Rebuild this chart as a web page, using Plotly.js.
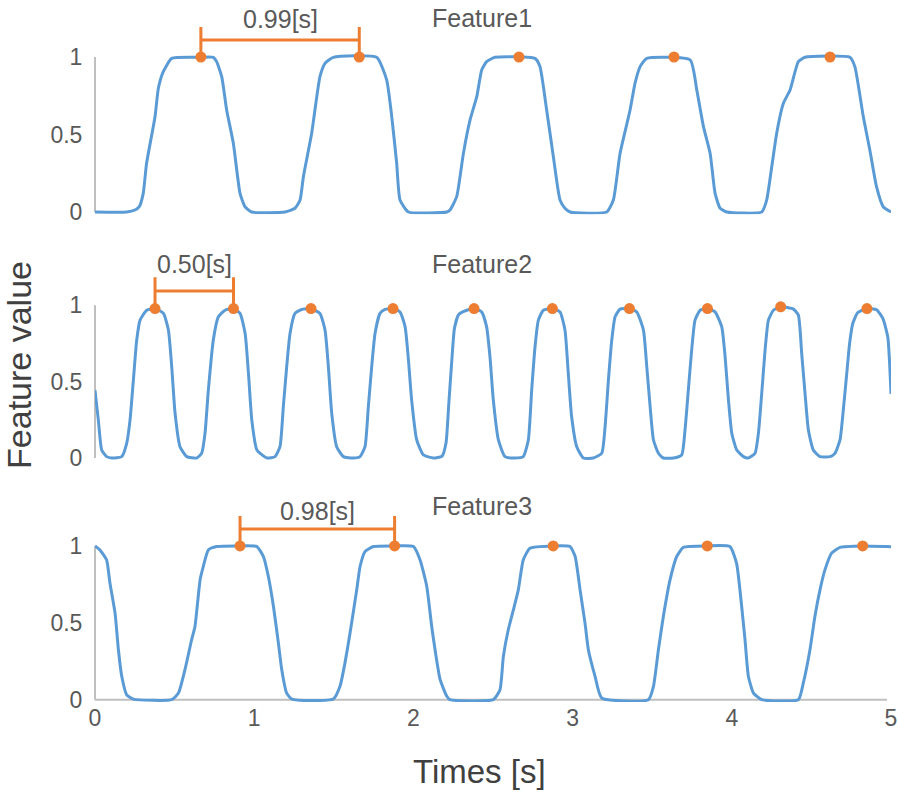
<!DOCTYPE html>
<html>
<head>
<meta charset="utf-8">
<script src="https://cdn.plot.ly/plotly-3.0.1.min.js"></script>
<style>html,body{margin:0;padding:0;background:#fff;}#chart{width:898px;height:795px;}</style>
</head>
<body>
<div id="chart"></div>
<script>
// ---------- data ----------
const xTicks = [0, 1, 2, 3, 4, 5];
const yTicks = [0, 0.5, 1];
const yTickText = ['0', '0.5', '1'];
const panelNames = ['Feature1', 'Feature2', 'Feature3'];
const intervalLabels = ['0.99[s]', '0.50[s]', '0.98[s]'];

const f1x = [0, 0.199, 0.251, 0.278, 0.303, 0.324, 0.377, 0.398, 0.429, 0.482, 0.660, 0.744, 0.764, 0.796, 0.827, 0.869, 0.911, 0.942, 0.984,
  1.194, 1.256, 1.288, 1.309, 1.361, 1.413, 1.445, 1.497, 1.769, 1.832, 1.864, 1.895, 1.916, 1.969,
  2.210, 2.230, 2.272, 2.314, 2.356, 2.398, 2.429, 2.460, 2.513, 2.764, 2.795, 2.837, 2.879, 2.921, 2.952, 2.984,
  3.214, 3.256, 3.298, 3.361, 3.392, 3.424, 3.466, 3.738, 3.780, 3.822, 3.864, 3.895, 3.927, 3.969,
  4.188, 4.219, 4.251, 4.282, 4.324, 4.366, 4.418, 4.460, 4.742, 4.773, 4.826, 4.867, 4.909, 4.951, 5.0];
const f1y = [0, 0, 0.013, 0.034, 0.120, 0.314, 0.615, 0.798, 0.905, 0.991, 0.998, 0.998, 0.970, 0.873, 0.658, 0.443, 0.120, 0.034, 0,
  0, 0.024, 0.077, 0.228, 0.508, 0.873, 0.959, 0.998, 0.998, 0.852, 0.615, 0.314, 0.077, 0,
  0, 0.013, 0.099, 0.378, 0.594, 0.744, 0.916, 0.970, 0.998, 0.991, 0.938, 0.658, 0.357, 0.077, 0.024, 0,
  0, 0.077, 0.378, 0.658, 0.830, 0.938, 0.991, 0.981, 0.787, 0.551, 0.378, 0.120, 0.024, 0,
  0, 0.077, 0.292, 0.508, 0.701, 0.787, 0.970, 0.998, 0.998, 0.938, 0.615, 0.400, 0.163, 0.034, 0];
const f1PeakX = [0.665, 1.660, 2.663, 3.637, 4.617];
const f1PeakY = [1, 1, 1, 1, 1];

const f2x = [0, 0.021, 0.042, 0.073, 0.105, 0.168, 0.199, 0.220, 0.241, 0.262, 0.283, 0.325, 0.377, 0.430, 0.461, 0.482, 0.503, 0.534, 0.576,
  0.639, 0.670, 0.691, 0.712, 0.743, 0.775, 0.817, 0.865, 0.911, 0.943, 0.964, 0.985, 1.017, 1.080,
  1.131, 1.162, 1.183, 1.204, 1.225, 1.256, 1.298, 1.355, 1.413, 1.445, 1.466, 1.487, 1.518, 1.560, 1.623,
  1.665, 1.696, 1.717, 1.738, 1.759, 1.790, 1.822, 1.870, 1.916, 1.948, 1.969, 1.989, 2.021, 2.063, 2.125,
  2.180, 2.205, 2.222, 2.240, 2.258, 2.285, 2.335, 2.381, 2.429, 2.460, 2.481, 2.502, 2.534, 2.575, 2.638,
  2.690, 2.722, 2.743, 2.764, 2.785, 2.816, 2.873, 2.921, 2.952, 2.973, 2.994, 3.026, 3.068, 3.131,
  3.183, 3.204, 3.225, 3.246, 3.267, 3.298, 3.357, 3.403, 3.445, 3.466, 3.487, 3.508, 3.539, 3.570, 3.633,
  3.685, 3.706, 3.727, 3.748, 3.769, 3.801, 3.847, 3.895, 3.937, 3.958, 3.979, 4.000, 4.031, 4.073, 4.104,
  4.146, 4.167, 4.188, 4.209, 4.230, 4.261, 4.307, 4.387, 4.418, 4.439, 4.460, 4.481, 4.512, 4.554, 4.617,
  4.648, 4.680, 4.700, 4.720, 4.740, 4.760, 4.790, 4.847, 4.910, 4.950, 4.980, 5.0];
const f2y = [0.444, 0.248, 0.052, 0.009, 0, 0.009, 0.096, 0.248, 0.510, 0.771, 0.902, 0.967, 0.978, 0.946, 0.837, 0.597, 0.292, 0.074, 0.009,
  0, 0.031, 0.161, 0.444, 0.771, 0.924, 0.967, 0.978, 0.946, 0.815, 0.553, 0.248, 0.052, 0,
  0.009, 0.074, 0.336, 0.597, 0.815, 0.946, 0.972, 0.978, 0.946, 0.837, 0.597, 0.292, 0.074, 0.009, 0,
  0.009, 0.074, 0.336, 0.597, 0.815, 0.946, 0.972, 0.978, 0.956, 0.858, 0.640, 0.379, 0.118, 0.020, 0,
  0.012, 0.100, 0.350, 0.620, 0.850, 0.940, 0.967, 0.978, 0.956, 0.858, 0.662, 0.379, 0.118, 0.009, 0,
  0.009, 0.118, 0.444, 0.728, 0.902, 0.967, 0.978, 0.956, 0.837, 0.553, 0.270, 0.074, 0, 0,
  0.031, 0.205, 0.510, 0.771, 0.924, 0.974, 0.978, 0.956, 0.837, 0.597, 0.336, 0.118, 0.031, 0, 0,
  0.020, 0.183, 0.444, 0.706, 0.902, 0.967, 0.978, 0.956, 0.858, 0.662, 0.379, 0.161, 0.052, 0.009, 0,
  0.031, 0.161, 0.423, 0.706, 0.902, 0.967, 0.989, 0.974, 0.935, 0.684, 0.423, 0.183, 0.052, 0.009, 0.009,
  0.030, 0.120, 0.310, 0.530, 0.750, 0.880, 0.950, 0.978, 0.970, 0.910, 0.790, 0.420];
const f2PeakX = [0.377, 0.870, 1.357, 1.872, 2.381, 2.873, 3.357, 3.847, 4.307, 4.849];
const f2PeakY = [0.978, 0.978, 0.978, 0.978, 0.978, 0.978, 0.978, 0.978, 0.989, 0.978];

const f3x = [0, 0.031, 0.073, 0.094, 0.126, 0.147, 0.168, 0.199, 0.241, 0.482, 0.524, 0.565, 0.607, 0.628, 0.660, 0.680, 0.712, 0.764, 0.911,
  1.016, 1.058, 1.089, 1.121, 1.152, 1.173, 1.204, 1.236, 1.497, 1.539, 1.570, 1.602, 1.644, 1.665, 1.696, 1.749, 1.882,
  2.000, 2.042, 2.084, 2.115, 2.136, 2.168, 2.210, 2.230, 2.502, 2.544, 2.565, 2.596, 2.628, 2.659, 2.690, 2.732, 2.878,
  2.984, 3.016, 3.047, 3.078, 3.099, 3.141, 3.183, 3.476, 3.508, 3.539, 3.570, 3.612, 3.654, 3.696, 3.846,
  3.988, 4.030, 4.062, 4.083, 4.104, 4.136, 4.188, 4.418, 4.449, 4.491, 4.522, 4.554, 4.585, 4.627, 4.680, 4.822, 4.973, 5.0];
const f3y = [1.0, 0.974, 0.909, 0.758, 0.563, 0.325, 0.152, 0.032, 0.004, 0, 0.043, 0.195, 0.390, 0.476, 0.779, 0.866, 0.974, 0.996, 1.0,
  0.996, 0.931, 0.801, 0.606, 0.368, 0.195, 0.043, 0.004, 0.004, 0.087, 0.238, 0.433, 0.714, 0.866, 0.963, 0.996, 1.0,
  0.996, 0.909, 0.736, 0.476, 0.325, 0.130, 0.022, 0, 0, 0.065, 0.281, 0.455, 0.584, 0.714, 0.909, 0.985, 1.0,
  0.996, 0.931, 0.714, 0.498, 0.325, 0.152, 0.011, 0, 0.087, 0.325, 0.541, 0.779, 0.931, 0.991, 1.0,
  0.996, 0.887, 0.606, 0.390, 0.152, 0.043, 0, 0, 0.108, 0.325, 0.541, 0.714, 0.844, 0.953, 0.991, 1.0, 0.996, 0.995];
const f3PeakX = [0.911, 1.882, 2.878, 3.846, 4.822];
const f3PeakY = [1, 1, 1, 1, 1];

// ---------- styling ----------
const BLUE = '#5b9bd5', ORANGE = '#ed7d31', AXIS = '#bfbfbf', TXT = '#595959', TITLE = '#404040';
const FONT = 'Liberation Sans, Arial, Helvetica, sans-serif';
const yRange = [-0.015, 1.25];
const domains = [[0.6947, 0.9740], [0.3443, 0.6197], [0, 0.2771]];
const bracketTop = [1.194, 1.183, 1.195];
const bracketBar = [1.110, 1.092, 1.110];
const labelY = [0.9729, 0.6239, 0.2721];
const nameY = [0.9744, 0.6239, 0.2792];

const series = [[f1x, f1y, f1PeakX, f1PeakY], [f2x, f2y, f2PeakX, f2PeakY], [f3x, f3y, f3PeakX, f3PeakY]];
const yaxNames = ['y', 'y2', 'y3'];
const traces = [];
const shapes = [];
const annotations = [];

series.forEach((s, i) => {
  const [sx, sy, px, py] = s;
  const ya = yaxNames[i];
  traces.push({x: sx, y: sy, xaxis: 'x', yaxis: ya, type: 'scatter', mode: 'lines',
    line: {color: BLUE, width: 3, shape: 'spline', smoothing: 0.5}, hoverinfo: 'x+y'});
  // interval bracket between the first two peaks
  const a = px[0], b = px[1];
  traces.push({x: [a, a, null, a, b, null, b, b], y: [py[0], bracketTop[i], null, bracketBar[i], bracketBar[i], null, py[1], bracketTop[i]],
    xaxis: 'x', yaxis: ya, type: 'scatter', mode: 'lines', line: {color: ORANGE, width: 3}, hoverinfo: 'skip'});
  traces.push({x: px, y: py, xaxis: 'x', yaxis: ya, type: 'scatter', mode: 'markers',
    marker: {color: ORANGE, size: 11}, cliponaxis: false});
  // left axis line spanning 0..1
  shapes.push({type: 'line', xref: 'paper', yref: ya, x0: 0, x1: 0, y0: 0, y1: 1, line: {color: AXIS, width: 2}, layer: 'below'});
  annotations.push({xref: 'paper', yref: 'paper', x: 0.4862, y: nameY[i], xanchor: 'center', yanchor: 'middle',
    text: panelNames[i], showarrow: false, font: {family: FONT, size: 25, color: TXT}});
  annotations.push({xref: 'x', yref: 'paper', x: (a + b) / 2, y: labelY[i], xanchor: 'center', yanchor: 'middle',
    text: intervalLabels[i], showarrow: false, font: {family: FONT, size: 25, color: TXT}});
});
// bottom axis line
shapes.push({type: 'line', xref: 'paper', yref: 'y3', x0: 0, x1: 0.995, y0: 0, y1: 0, line: {color: AXIS, width: 2}, layer: 'below'});

annotations.push({xref: 'paper', yref: 'paper', x: -0.0955, y: 0.4801, xanchor: 'center', yanchor: 'middle', textangle: -90,
  text: 'Feature value', showarrow: false, font: {family: FONT, size: 34, color: TITLE}});
annotations.push({xref: 'paper', yref: 'paper', x: 0.483, y: -0.0997, xanchor: 'center', yanchor: 'middle',
  text: 'Times [s]', showarrow: false, font: {family: FONT, size: 33, color: TITLE}});

function yax(i) {
  return {domain: domains[i], range: yRange, anchor: 'x', tickmode: 'array', tickvals: yTicks, ticktext: yTickText,
    showline: false, showgrid: false, zeroline: false, ticks: 'outside', ticklen: 7, tickcolor: 'rgba(0,0,0,0)',
    tickfont: {family: FONT, size: 23, color: TXT}, fixedrange: true};
}

const layout = {
  width: 898, height: 795, margin: {l: 95, r: 7, t: 0, b: 93},
  paper_bgcolor: '#fff', plot_bgcolor: '#fff', showlegend: false,
  font: {family: FONT, color: TXT},
  xaxis: {range: [0, 5], anchor: 'y3', tickmode: 'array', tickvals: xTicks, showline: false, showgrid: false, zeroline: false,
    ticks: '', tickfont: {family: FONT, size: 23, color: TXT}, fixedrange: true},
  yaxis: yax(0), yaxis2: yax(1), yaxis3: yax(2),
  shapes: shapes, annotations: annotations
};

Plotly.newPlot('chart', traces, layout, {displayModeBar: false, staticPlot: true});
</script>
</body>
</html>
